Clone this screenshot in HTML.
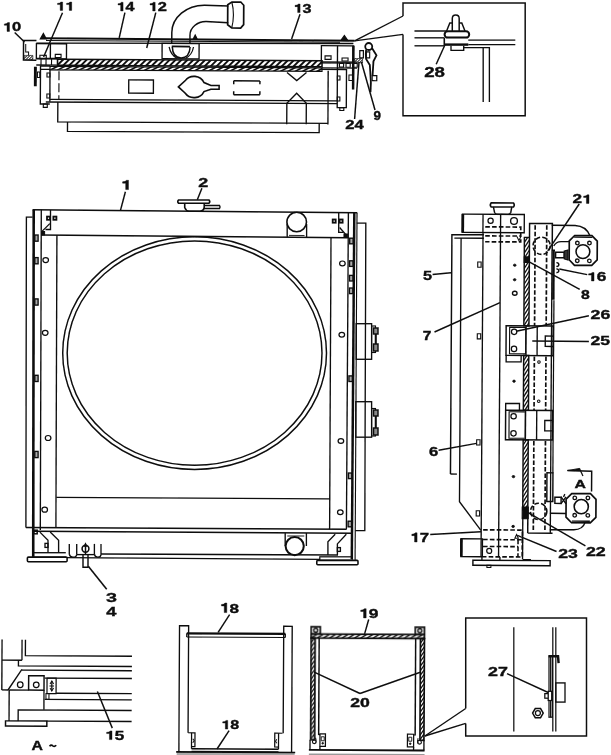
<!DOCTYPE html>
<html><head><meta charset="utf-8"><title>Radiator</title>
<style>
html,body{margin:0;padding:0;background:#fff;}
body{width:611px;height:755px;overflow:hidden;font-family:"Liberation Sans",sans-serif;}
svg{display:block;}
svg *{vector-effect:none;}
text{font-family:"Liberation Sans",sans-serif;font-weight:bold;fill:#0a0a0a;stroke:#0a0a0a;stroke-width:0.35;}
</style></head><body>
<svg width="611" height="755" viewBox="0 0 611 755">
<defs>
<pattern id="h3" width="2" height="2" patternUnits="userSpaceOnUse" patternTransform="rotate(45)">
<rect x="0" y="0" width="1" height="2" fill="#222" stroke="none"/></pattern>
<filter id="soft" x="-2%" y="-2%" width="104%" height="104%"><feGaussianBlur stdDeviation="0.45"/></filter>
</defs>
<rect x="0" y="0" width="611" height="755" fill="#fff" stroke="none"/>
<g fill="none" stroke="#0c0c0c" stroke-linecap="butt" stroke-linejoin="miter" filter="url(#soft)">
<g>
<line x1="32.6" y1="209.8" x2="357.2" y2="212.8" stroke-width="1.46"/>
<line x1="41.1" y1="234.9" x2="348.5" y2="237.8" stroke-width="1.46"/>
<line x1="56.3" y1="497.3" x2="330" y2="498.8" stroke-width="1.34"/>
<line x1="25.9" y1="527.5" x2="346.6" y2="529.3" stroke-width="1.46"/>
<line x1="34" y1="531.2" x2="352" y2="533.2" stroke-width="1.46"/>
<line x1="101" y1="554" x2="338" y2="555" stroke-width="1.34"/>
<line x1="67" y1="557.6" x2="320" y2="559.4" stroke-width="1.34"/>
<path d="M25.9 527.5 L26.4 217.2 L32.6 217.2" stroke-width="1.34" fill="none"/>
<line x1="33.7" y1="209.8" x2="33.2" y2="557" stroke-width="2.58"/>
<line x1="41.3" y1="209.8" x2="40.3" y2="530" stroke-width="1.34"/>
<line x1="56.9" y1="235" x2="55.9" y2="527.7" stroke-width="1.34"/>
<path d="M50.5 210 L50.5 229.5 L45.5 229.5" stroke-width="1.34" fill="none"/>
<line x1="49.8" y1="223.6" x2="42" y2="231.4" stroke-width="1.34"/>
<path d="M41.6 231.4 L44.6 231.4 L44.6 234.9 L41.6 234.9 Z" stroke-width="1.01" fill="#111"/>
<rect x="47" y="216.6" width="3.00" height="3.20" stroke-width="1.79" fill="none"/>
<rect x="53.4" y="216.6" width="3.00" height="3.20" stroke-width="1.79" fill="none"/>
<rect x="34.8" y="235.0" width="3.30" height="6.20" stroke-width="1.34" fill="#aaa"/>
<rect x="34.8" y="257.59999999999997" width="3.30" height="6.20" stroke-width="1.34" fill="#aaa"/>
<rect x="34.8" y="298.9" width="3.30" height="6.20" stroke-width="1.34" fill="#aaa"/>
<rect x="34.8" y="375.29999999999995" width="3.30" height="6.20" stroke-width="1.34" fill="#aaa"/>
<rect x="34.8" y="451.4" width="3.30" height="6.20" stroke-width="1.34" fill="#aaa"/>
<ellipse cx="45.7" cy="260.1" rx="2.8" ry="2.5" stroke-width="1.23" fill="none"/>
<ellipse cx="45.2" cy="332.8" rx="2.8" ry="2.5" stroke-width="1.23" fill="none"/>
<ellipse cx="48.1" cy="438" rx="2.8" ry="2.5" stroke-width="1.23" fill="none"/>
<ellipse cx="44.7" cy="509.7" rx="2.8" ry="2.5" stroke-width="1.23" fill="none"/>
<line x1="331" y1="237.5" x2="329.6" y2="529.2" stroke-width="1.34"/>
<line x1="348.4" y1="212.7" x2="346.4" y2="529.3" stroke-width="1.34"/>
<line x1="354.3" y1="212.8" x2="351.8" y2="559" stroke-width="2.46"/>
<line x1="357" y1="212.8" x2="355.1" y2="560" stroke-width="1.12"/>
<path d="M356.9 223.1 L365.8 223.1 L364.8 530.6 L355.3 530.6" stroke-width="1.34" fill="none"/>
<path d="M338.7 212.6 L338.7 232.4 L343.5 232.4" stroke-width="1.34" fill="none"/>
<line x1="339.6" y1="227.5" x2="346.5" y2="235.4" stroke-width="1.34"/>
<path d="M344 234 L347.8 234 L347.8 237.6 L344 237.6 Z" stroke-width="1.01" fill="#111"/>
<rect x="332.7" y="219.5" width="3.00" height="3.20" stroke-width="1.79" fill="none"/>
<rect x="339.6" y="219.5" width="3.00" height="3.20" stroke-width="1.79" fill="none"/>
<rect x="349.69438596491227" y="238.2" width="3.40" height="5.60" stroke-width="1.34" fill="#aaa"/>
<rect x="349.5675087719298" y="260.8" width="3.40" height="5.60" stroke-width="1.34" fill="#aaa"/>
<rect x="349.4855438596491" y="275.4" width="3.40" height="5.60" stroke-width="1.34" fill="#aaa"/>
<rect x="349.41480701754386" y="288.0" width="3.40" height="5.60" stroke-width="1.34" fill="#aaa"/>
<rect x="348.92133333333334" y="375.9" width="3.40" height="5.60" stroke-width="1.34" fill="#aaa"/>
<rect x="348.3762105263158" y="473.0" width="3.40" height="5.60" stroke-width="1.34" fill="#aaa"/>
<rect x="348.1056140350877" y="521.2" width="3.40" height="5.60" stroke-width="1.34" fill="#aaa"/>
<ellipse cx="342.4" cy="263.4" rx="2.8" ry="2.4" stroke-width="1.23" fill="none"/>
<ellipse cx="341.8" cy="334.7" rx="2.8" ry="2.4" stroke-width="1.23" fill="none"/>
<ellipse cx="340.9" cy="441" rx="2.8" ry="2.4" stroke-width="1.23" fill="none"/>
<ellipse cx="340.3" cy="512.2" rx="2.8" ry="2.4" stroke-width="1.23" fill="none"/>
<ellipse cx="194.6" cy="353.1" rx="131.9" ry="116.3" stroke-width="1.46" fill="none"/>
<ellipse cx="194.6" cy="353.1" rx="127.4" ry="112.2" stroke-width="1.46" fill="none"/>
<circle cx="296.7" cy="222" r="9.8" stroke-width="1.57" fill="none"/>
<line x1="287.2" y1="224" x2="287.2" y2="237.2" stroke-width="1.34"/>
<line x1="306.6" y1="224" x2="306.6" y2="237.4" stroke-width="1.34"/>
<line x1="289" y1="235.4" x2="304.5" y2="235.5" stroke-width="0.90"/>
<path d="M178.5 200 H209 Q210.5 201.6 209 203.2 H178.5 Q177 201.6 178.5 200 Z" stroke-width="1.57" fill="none"/>
<path d="M184.7 203.2 V207.5 Q186 211 189 211.3 H200 Q203.6 211 204.2 207.5 V203.2" stroke-width="1.57" fill="none"/>
<path d="M205 205.5 H219.5 Q220.6 207 219.5 208.5 H203.5" stroke-width="1.34" fill="none"/>
<rect x="33.8" y="530.2" width="3.40" height="3.60" stroke-width="1.46" fill="none"/>
<path d="M39.9 532.1 L48 540.2 L48 552.4" stroke-width="1.34" fill="none"/>
<path d="M50.2 532.1 L58.6 540.2 L58.6 552.4" stroke-width="1.34" fill="none"/>
<rect x="45" y="543.4" width="3.00" height="4.00" stroke-width="1.34" fill="none"/>
<line x1="34" y1="552.7" x2="65.8" y2="552.7" stroke-width="1.34"/>
<rect x="27.4" y="557.1" width="39.70" height="4.70" stroke-width="1.57" fill="none" rx="1"/>
<line x1="34" y1="557.1" x2="66" y2="557.1" stroke-width="1.12"/>
<line x1="69.3" y1="543.9" x2="69.3" y2="554.2" stroke-width="1.34"/>
<line x1="76.7" y1="543.9" x2="76.7" y2="554.2" stroke-width="1.34"/>
<line x1="94.4" y1="543.9" x2="94.4" y2="554.2" stroke-width="1.34"/>
<line x1="101" y1="543.9" x2="101" y2="554.2" stroke-width="1.34"/>
<path d="M69.3 554.2 Q69.8 557.2 73 557.2 Q76.7 557.2 76.7 554.2" stroke-width="1.34" fill="none"/>
<path d="M94.4 554.2 Q94.8 557.2 97.8 557.2 Q101 557.2 101 554.2" stroke-width="1.34" fill="none"/>
<line x1="76.7" y1="554.6" x2="94.4" y2="554.6" stroke-width="1.34"/>
<circle cx="85.5" cy="548.7" r="3.4" stroke-width="1.57" fill="none"/>
<path d="M84.2 546.3 L85.5 543.5 L86.8 546.3 Z" stroke-width="1.12" fill="#111"/>
<line x1="85.5" y1="545.5" x2="85.5" y2="554.2" stroke-width="1.46"/>
<path d="M83 554.2 L83 567.2 L88 567.2 L88 554.2" stroke-width="1.46" fill="none"/>
<circle cx="294.7" cy="546.1" r="9.1" stroke-width="2.02" fill="none"/>
<path d="M285.2 533 V546 M306.4 533.1 V546" stroke-width="1.34" fill="none"/>
<path d="M287.3 536 H304.3" stroke-width="0.90" fill="none"/>
<path d="M335.2 534.3 L327.9 541.7 L327.9 554.9" stroke-width="1.34" fill="none"/>
<path d="M346.3 534.3 L337.4 543.9 L337.4 554.9" stroke-width="1.34" fill="none"/>
<rect x="337.4" y="547.6" width="3.00" height="3.80" stroke-width="1.34" fill="none"/>
<rect x="319.8" y="556.8" width="32.40" height="3.40" stroke-width="1.23" fill="none"/>
<rect x="316.8" y="560.4" width="41.20" height="4.40" stroke-width="1.57" fill="none" rx="1"/>
<rect x="356.2" y="323.7" width="15.40" height="35.60" stroke-width="1.34" fill="none"/>
<rect x="371.6" y="326" width="3.90" height="26.50" stroke-width="1.12" fill="none"/>
<rect x="373.5" y="328" width="4.50" height="6.00" stroke-width="1.46" fill="#888"/>
<rect x="373.5" y="344" width="4.50" height="7.00" stroke-width="1.46" fill="#888"/>
<line x1="375.8" y1="334" x2="375.8" y2="344" stroke-width="2.02"/>
<rect x="355.8" y="401.7" width="15.80" height="35.50" stroke-width="1.34" fill="none"/>
<rect x="371.6" y="408.5" width="3.90" height="27.50" stroke-width="1.12" fill="none"/>
<rect x="373.5" y="410" width="4.50" height="6.00" stroke-width="1.46" fill="#888"/>
<rect x="373.5" y="428" width="4.50" height="7.00" stroke-width="1.46" fill="#888"/>
<line x1="375.8" y1="416" x2="375.8" y2="428" stroke-width="2.02"/>
</g>
<g transform="translate(121.01 189.60) scale(1.426 1)">
<path transform="translate(0.00 0) scale(13.14)" d="M0.40 -0.708 V0 H0.25 V-0.49 H0.085 V-0.595 Q0.255 -0.60 0.295 -0.708 Z" fill="#0a0a0a" stroke="#0a0a0a" stroke-width="0.025"/>
</g>
<line x1="125.4" y1="191.8" x2="120.4" y2="210.6" stroke-width="1.46"/>
<g transform="translate(198.37 186.70) scale(1.455 1)">
<text x="0.00" y="0" font-size="12.29">2</text>
</g>
<line x1="201.9" y1="188.3" x2="197.3" y2="199.8" stroke-width="1.46"/>
<g transform="translate(105.95 602.00) scale(1.439 1)">
<text x="0.00" y="0" font-size="13.70">3</text>
</g>
<line x1="88.3" y1="566.2" x2="106.7" y2="589.2" stroke-width="1.57"/>
<g transform="translate(106.13 616.40) scale(1.348 1)">
<text x="0.00" y="0" font-size="13.56">4</text>
</g>
<g transform="rotate(0.3 195 70)">
<g transform="translate(0 0.8)">
<path d="M36.3 40.5 L23.4 40.5 L23.4 60.2 L36.3 60.2" stroke-width="1.46" fill="none"/>
<path d="M25.6 44 L25.6 52 L28.5 52 L28.5 55.5" stroke-width="1.01" fill="none"/>
<rect x="24.3" y="55.5" width="8.5" height="4.2" fill="url(#h3)" stroke-width="0.6"/>
<path d="M40.3 38.9 L43.2 33.6 L46 38.9 Z" stroke-width="1.34" fill="#111"/>
<rect x="36.3" y="43.6" width="30.10" height="15.20" stroke-width="1.34" fill="none"/>
<line x1="50.3" y1="43.6" x2="50.3" y2="58.8" stroke-width="1.34"/>
<rect x="39.8" y="55.3" width="6.40" height="3.30" stroke-width="1.12" fill="none"/>
<rect x="55.2" y="54.3" width="5.80" height="3.10" stroke-width="1.12" fill="none"/>
</g>
<clipPath id="c1"><rect x="57.5" y="60.0" width="264.50" height="6.00"/></clipPath>
<g clip-path="url(#c1)">
<line x1="44.60" y1="67.00" x2="52.60" y2="59.00" stroke-width="1.9"/>
<line x1="50.50" y1="67.00" x2="58.50" y2="59.00" stroke-width="1.9"/>
<line x1="56.40" y1="67.00" x2="64.40" y2="59.00" stroke-width="1.9"/>
<line x1="62.30" y1="67.00" x2="70.30" y2="59.00" stroke-width="1.9"/>
<line x1="68.20" y1="67.00" x2="76.20" y2="59.00" stroke-width="1.9"/>
<line x1="74.10" y1="67.00" x2="82.10" y2="59.00" stroke-width="1.9"/>
<line x1="80.00" y1="67.00" x2="88.00" y2="59.00" stroke-width="1.9"/>
<line x1="85.90" y1="67.00" x2="93.90" y2="59.00" stroke-width="1.9"/>
<line x1="91.80" y1="67.00" x2="99.80" y2="59.00" stroke-width="1.9"/>
<line x1="97.70" y1="67.00" x2="105.70" y2="59.00" stroke-width="1.9"/>
<line x1="103.60" y1="67.00" x2="111.60" y2="59.00" stroke-width="1.9"/>
<line x1="109.50" y1="67.00" x2="117.50" y2="59.00" stroke-width="1.9"/>
<line x1="115.40" y1="67.00" x2="123.40" y2="59.00" stroke-width="1.9"/>
<line x1="121.30" y1="67.00" x2="129.30" y2="59.00" stroke-width="1.9"/>
<line x1="127.20" y1="67.00" x2="135.20" y2="59.00" stroke-width="1.9"/>
<line x1="133.10" y1="67.00" x2="141.10" y2="59.00" stroke-width="1.9"/>
<line x1="139.00" y1="67.00" x2="147.00" y2="59.00" stroke-width="1.9"/>
<line x1="144.90" y1="67.00" x2="152.90" y2="59.00" stroke-width="1.9"/>
<line x1="150.80" y1="67.00" x2="158.80" y2="59.00" stroke-width="1.9"/>
<line x1="156.70" y1="67.00" x2="164.70" y2="59.00" stroke-width="1.9"/>
<line x1="162.60" y1="67.00" x2="170.60" y2="59.00" stroke-width="1.9"/>
<line x1="168.50" y1="67.00" x2="176.50" y2="59.00" stroke-width="1.9"/>
<line x1="174.40" y1="67.00" x2="182.40" y2="59.00" stroke-width="1.9"/>
<line x1="180.30" y1="67.00" x2="188.30" y2="59.00" stroke-width="1.9"/>
<line x1="186.20" y1="67.00" x2="194.20" y2="59.00" stroke-width="1.9"/>
<line x1="192.10" y1="67.00" x2="200.10" y2="59.00" stroke-width="1.9"/>
<line x1="198.00" y1="67.00" x2="206.00" y2="59.00" stroke-width="1.9"/>
<line x1="203.90" y1="67.00" x2="211.90" y2="59.00" stroke-width="1.9"/>
<line x1="209.80" y1="67.00" x2="217.80" y2="59.00" stroke-width="1.9"/>
<line x1="215.70" y1="67.00" x2="223.70" y2="59.00" stroke-width="1.9"/>
<line x1="221.60" y1="67.00" x2="229.60" y2="59.00" stroke-width="1.9"/>
<line x1="227.50" y1="67.00" x2="235.50" y2="59.00" stroke-width="1.9"/>
<line x1="233.40" y1="67.00" x2="241.40" y2="59.00" stroke-width="1.9"/>
<line x1="239.30" y1="67.00" x2="247.30" y2="59.00" stroke-width="1.9"/>
<line x1="245.20" y1="67.00" x2="253.20" y2="59.00" stroke-width="1.9"/>
<line x1="251.10" y1="67.00" x2="259.10" y2="59.00" stroke-width="1.9"/>
<line x1="257.00" y1="67.00" x2="265.00" y2="59.00" stroke-width="1.9"/>
<line x1="262.90" y1="67.00" x2="270.90" y2="59.00" stroke-width="1.9"/>
<line x1="268.80" y1="67.00" x2="276.80" y2="59.00" stroke-width="1.9"/>
<line x1="274.70" y1="67.00" x2="282.70" y2="59.00" stroke-width="1.9"/>
<line x1="280.60" y1="67.00" x2="288.60" y2="59.00" stroke-width="1.9"/>
<line x1="286.50" y1="67.00" x2="294.50" y2="59.00" stroke-width="1.9"/>
<line x1="292.40" y1="67.00" x2="300.40" y2="59.00" stroke-width="1.9"/>
<line x1="298.30" y1="67.00" x2="306.30" y2="59.00" stroke-width="1.9"/>
<line x1="304.20" y1="67.00" x2="312.20" y2="59.00" stroke-width="1.9"/>
<line x1="310.10" y1="67.00" x2="318.10" y2="59.00" stroke-width="1.9"/>
<line x1="316.00" y1="67.00" x2="324.00" y2="59.00" stroke-width="1.9"/>
<line x1="321.90" y1="67.00" x2="329.90" y2="59.00" stroke-width="1.9"/>
</g>
<rect x="57.5" y="60.0" width="264.50" height="6.00" fill="none" stroke-width="1.57"/>
<line x1="322" y1="61.2" x2="357" y2="61.2" stroke-width="1.34"/>
<line x1="322" y1="67.2" x2="357" y2="67.2" stroke-width="1.34"/>
<line x1="36.3" y1="59.2" x2="57.5" y2="59.2" stroke-width="1.34"/>
<line x1="36.3" y1="65.8" x2="57.5" y2="65.8" stroke-width="1.34"/>
<line x1="41" y1="59.2" x2="41" y2="65.8" stroke-width="1.12"/>
<line x1="46" y1="59.2" x2="46" y2="65.8" stroke-width="1.12"/>
<line x1="51.5" y1="59.2" x2="51.5" y2="65.8" stroke-width="1.12"/>
<clipPath id="c2"><rect x="50" y="67.2" width="272.00" height="3.40"/></clipPath>
<g clip-path="url(#c2)">
<line x1="35.41" y1="71.13" x2="43.80" y2="66.67" stroke-width="1.6"/>
<line x1="42.61" y1="71.13" x2="51.00" y2="66.67" stroke-width="1.6"/>
<line x1="49.81" y1="71.13" x2="58.20" y2="66.67" stroke-width="1.6"/>
<line x1="57.01" y1="71.13" x2="65.40" y2="66.67" stroke-width="1.6"/>
<line x1="64.21" y1="71.13" x2="72.60" y2="66.67" stroke-width="1.6"/>
<line x1="71.41" y1="71.13" x2="79.80" y2="66.67" stroke-width="1.6"/>
<line x1="78.61" y1="71.13" x2="87.00" y2="66.67" stroke-width="1.6"/>
<line x1="85.81" y1="71.13" x2="94.20" y2="66.67" stroke-width="1.6"/>
<line x1="93.01" y1="71.13" x2="101.40" y2="66.67" stroke-width="1.6"/>
<line x1="100.21" y1="71.13" x2="108.60" y2="66.67" stroke-width="1.6"/>
<line x1="107.41" y1="71.13" x2="115.80" y2="66.67" stroke-width="1.6"/>
<line x1="114.61" y1="71.13" x2="123.00" y2="66.67" stroke-width="1.6"/>
<line x1="121.81" y1="71.13" x2="130.20" y2="66.67" stroke-width="1.6"/>
<line x1="129.01" y1="71.13" x2="137.40" y2="66.67" stroke-width="1.6"/>
<line x1="136.21" y1="71.13" x2="144.60" y2="66.67" stroke-width="1.6"/>
<line x1="143.41" y1="71.13" x2="151.80" y2="66.67" stroke-width="1.6"/>
<line x1="150.61" y1="71.13" x2="159.00" y2="66.67" stroke-width="1.6"/>
<line x1="157.81" y1="71.13" x2="166.20" y2="66.67" stroke-width="1.6"/>
<line x1="165.01" y1="71.13" x2="173.40" y2="66.67" stroke-width="1.6"/>
<line x1="172.21" y1="71.13" x2="180.60" y2="66.67" stroke-width="1.6"/>
<line x1="179.41" y1="71.13" x2="187.80" y2="66.67" stroke-width="1.6"/>
<line x1="186.61" y1="71.13" x2="195.00" y2="66.67" stroke-width="1.6"/>
<line x1="193.81" y1="71.13" x2="202.20" y2="66.67" stroke-width="1.6"/>
<line x1="201.01" y1="71.13" x2="209.40" y2="66.67" stroke-width="1.6"/>
<line x1="208.21" y1="71.13" x2="216.60" y2="66.67" stroke-width="1.6"/>
<line x1="215.41" y1="71.13" x2="223.80" y2="66.67" stroke-width="1.6"/>
<line x1="222.61" y1="71.13" x2="231.00" y2="66.67" stroke-width="1.6"/>
<line x1="229.81" y1="71.13" x2="238.20" y2="66.67" stroke-width="1.6"/>
<line x1="237.01" y1="71.13" x2="245.40" y2="66.67" stroke-width="1.6"/>
<line x1="244.21" y1="71.13" x2="252.60" y2="66.67" stroke-width="1.6"/>
<line x1="251.41" y1="71.13" x2="259.80" y2="66.67" stroke-width="1.6"/>
<line x1="258.61" y1="71.13" x2="267.00" y2="66.67" stroke-width="1.6"/>
<line x1="265.81" y1="71.13" x2="274.20" y2="66.67" stroke-width="1.6"/>
<line x1="273.01" y1="71.13" x2="281.40" y2="66.67" stroke-width="1.6"/>
<line x1="280.21" y1="71.13" x2="288.60" y2="66.67" stroke-width="1.6"/>
<line x1="287.41" y1="71.13" x2="295.80" y2="66.67" stroke-width="1.6"/>
<line x1="294.61" y1="71.13" x2="303.00" y2="66.67" stroke-width="1.6"/>
<line x1="301.81" y1="71.13" x2="310.20" y2="66.67" stroke-width="1.6"/>
<line x1="309.01" y1="71.13" x2="317.40" y2="66.67" stroke-width="1.6"/>
<line x1="316.21" y1="71.13" x2="324.60" y2="66.67" stroke-width="1.6"/>
<line x1="323.41" y1="71.13" x2="331.80" y2="66.67" stroke-width="1.6"/>
</g>
<rect x="50" y="67.2" width="272.00" height="3.40" fill="none" stroke-width="1.23"/>
<line x1="40.3" y1="70.2" x2="50" y2="70.2" stroke-width="1.34"/>
<line x1="50" y1="70" x2="50" y2="102.6" stroke-width="1.34"/>
<line x1="59" y1="72" x2="59" y2="100" stroke-width="1.12" stroke-dasharray="9 3"/>
<line x1="50" y1="100.2" x2="337.4" y2="100.2" stroke-width="1.34"/>
<line x1="46" y1="102.8" x2="337.4" y2="102.8" stroke-width="1.34"/>
<line x1="328.2" y1="70" x2="328.2" y2="123.7" stroke-width="1.34"/>
<g transform="translate(0 0.8)">
<path d="M50 66 L40.5 66 L40.5 104 L50 104" stroke-width="1.34" fill="none"/>
<rect x="43.5" y="104" width="4.00" height="3.40" stroke-width="1.12" fill="none"/>
<rect x="47" y="73" width="3.00" height="4.00" stroke-width="1.12" fill="none"/>
<rect x="47" y="94" width="3.00" height="4.00" stroke-width="1.12" fill="none"/>
<line x1="35.4" y1="66.8" x2="35.4" y2="86.4" stroke-width="2.91"/>
<rect x="37.5" y="72" width="2.30" height="5.50" stroke-width="1.01" fill="none"/>
</g>
<path d="M58 102.8 L58 122.6 L328.2 122.6" stroke-width="1.34" fill="none"/>
<path d="M67.8 122.6 L67.8 132 L319.5 132 L319.5 122.6" stroke-width="1.34" fill="none"/>
<path d="M171.6 43.6 V32.7 A32.6 27.6 0 0 1 204.2 5.1 L228 5.9" stroke-width="1.46" fill="none"/>
<path d="M189.8 43.6 V35.2 A16 13.7 0 0 1 205.8 21.5 L228 22.6" stroke-width="1.46" fill="none"/>
<path d="M227.4 4.6 L231.5 1.8 H240.4 L243.4 5 V24.4 L240.4 27.8 H231.5 L227.4 24.6 Z" stroke-width="1.68" fill="none"/>
<path d="M231.5 1.8 Q234.8 14.8 231.5 27.8" stroke-width="1.12" fill="none"/>
<line x1="171.6" y1="46.6" x2="189.8" y2="46.6" stroke-width="1.79"/>
<rect x="162" y="43.6" width="37.00" height="15.20" stroke-width="1.34" fill="none"/>
<path d="M172.2 47 Q172.5 57.8 181 58 Q189.5 57.8 190 47" stroke-width="1.46" fill="none"/>
<path d="M169 47 Q170.5 55 177 58.4 M193.4 47 Q192 55 185.5 58.4" stroke-width="1.23" fill="none"/>
<path d="M193 38.9 L195 35 L197 38.9 Z" stroke-width="1.12" fill="#111"/>
<rect x="128.8" y="80.2" width="24.70" height="13.30" stroke-width="1.34" fill="none"/>
<path d="M178.5 87 L185.1 80.9 A11 10.6 0 0 1 204.1 82.5 L211 85.4 H219.2 V89.2 H211 L204.1 91.5 A11 10.6 0 0 1 185.1 93.1 Z" stroke-width="1.57" fill="none"/>
<line x1="233.8" y1="80.6" x2="260" y2="80.6" stroke-width="1.46"/>
<line x1="233.8" y1="94.5" x2="260" y2="94.5" stroke-width="1.46"/>
<line x1="233.8" y1="80.6" x2="233.8" y2="84" stroke-width="1.46"/>
<line x1="233.8" y1="91" x2="233.8" y2="94.5" stroke-width="1.46"/>
<line x1="260" y1="80.6" x2="260" y2="84" stroke-width="1.46"/>
<line x1="260" y1="91" x2="260" y2="94.5" stroke-width="1.46"/>
<path d="M287 72 L296.8 80 L306.5 72" stroke-width="1.34" fill="none"/>
<path d="M287 123.7 L287 102.8 L296.8 92.8 L306.5 102.8 L306.5 123.7" stroke-width="1.34" fill="none"/>
<g transform="translate(0 -0.8)">
<rect x="321.3" y="45.8" width="32.10" height="17.20" stroke-width="1.34" fill="none"/>
<line x1="337.4" y1="45.8" x2="337.4" y2="63" stroke-width="1.34"/>
<rect x="325" y="56" width="6.00" height="3.50" stroke-width="1.12" fill="none"/>
<rect x="342" y="58" width="6.00" height="3.00" stroke-width="1.12" fill="none"/>
<path d="M340.6 40.6 L344.2 35.4 L347.8 40.6 Z" stroke-width="1.12" fill="#111"/>
<rect x="339.4" y="63.4" width="4.20" height="3.80" stroke-width="1.12" fill="#fff"/>
<rect x="346" y="63.4" width="4.20" height="3.80" stroke-width="1.12" fill="#fff"/>
<rect x="353" y="63.4" width="4.20" height="3.80" stroke-width="1.12" fill="#fff"/>
<path d="M337.4 63 L337.4 107.7 L346.5 107.7 L346.5 69" stroke-width="1.34" fill="none"/>
<rect x="340" y="107.7" width="4.00" height="2.80" stroke-width="1.12" fill="none"/>
<rect x="337.4" y="76" width="2.60" height="4.00" stroke-width="1.12" fill="none"/>
<rect x="337.4" y="97" width="2.60" height="4.00" stroke-width="1.12" fill="none"/>
<line x1="322" y1="69.6" x2="346.5" y2="69.6" stroke-width="1.23"/>
<line x1="353.2" y1="45.8" x2="353.2" y2="89.4" stroke-width="2.46"/>
<rect x="349" y="75" width="4.00" height="5.50" stroke-width="1.01" fill="none"/>
<circle cx="368.6" cy="46.4" r="3.5" stroke-width="1.79" fill="none"/>
<path d="M366 49.4 Q365.4 54 366 58.8 L369.8 64.8 L370.4 73.4 Q371.4 82 370.6 92" stroke-width="1.79" fill="none"/>
<path d="M371.8 47.8 L376.4 55.2 L373.4 61.2 L372.6 75.4" stroke-width="1.79" fill="none"/>
<rect x="359.7" y="50.6" width="3.60" height="7.20" stroke-width="1.23" fill="none"/>
<rect x="366.2" y="51.8" width="3.40" height="6.00" stroke-width="1.12" fill="none"/>
<rect x="354.5" y="58.5" width="8" height="4.3" fill="url(#h3)" stroke-width="0.6"/>
<rect x="372.2" y="75.4" width="4.60" height="5.20" stroke-width="1.23" fill="none"/>
</g>
</g>
<line x1="46" y1="38.3" x2="354.6" y2="40.7" stroke-width="1.90"/>
<line x1="46" y1="40.6" x2="340" y2="42.3" stroke-width="1.01"/>
<line x1="36.3" y1="43.1" x2="353.4" y2="43.5" stroke-width="1.34"/>
<g transform="translate(2.89 31.40) scale(1.330 1)">
<path transform="translate(0.00 0) scale(12.43)" d="M0.40 -0.708 V0 H0.25 V-0.49 H0.085 V-0.595 Q0.255 -0.60 0.295 -0.708 Z" fill="#0a0a0a" stroke="#0a0a0a" stroke-width="0.025"/>
<text x="6.91" y="0" font-size="12.43">0</text>
</g>
<line x1="14.7" y1="32.4" x2="24.5" y2="42" stroke-width="1.46"/>
<g transform="translate(56.11 10.40) scale(1.374 1)">
<path transform="translate(0.00 0) scale(11.86)" d="M0.40 -0.708 V0 H0.25 V-0.49 H0.085 V-0.595 Q0.255 -0.60 0.295 -0.708 Z" fill="#0a0a0a" stroke="#0a0a0a" stroke-width="0.025"/>
<path transform="translate(6.60 0) scale(11.86)" d="M0.40 -0.708 V0 H0.25 V-0.49 H0.085 V-0.595 Q0.255 -0.60 0.295 -0.708 Z" fill="#0a0a0a" stroke="#0a0a0a" stroke-width="0.025"/>
</g>
<line x1="62.5" y1="12.8" x2="43.6" y2="57" stroke-width="1.46"/>
<g transform="translate(116.63 11.00) scale(1.314 1)">
<path transform="translate(0.00 0) scale(12.29)" d="M0.40 -0.708 V0 H0.25 V-0.49 H0.085 V-0.595 Q0.255 -0.60 0.295 -0.708 Z" fill="#0a0a0a" stroke="#0a0a0a" stroke-width="0.025"/>
<text x="6.83" y="0" font-size="12.29">4</text>
</g>
<line x1="124.9" y1="12.6" x2="119.2" y2="37.8" stroke-width="1.46"/>
<g transform="translate(148.60 11.00) scale(1.336 1)">
<path transform="translate(0.00 0) scale(12.29)" d="M0.40 -0.708 V0 H0.25 V-0.49 H0.085 V-0.595 Q0.255 -0.60 0.295 -0.708 Z" fill="#0a0a0a" stroke="#0a0a0a" stroke-width="0.025"/>
<text x="6.83" y="0" font-size="12.29">2</text>
</g>
<line x1="155.8" y1="12.6" x2="146.7" y2="48" stroke-width="1.46"/>
<g transform="translate(293.63 12.60) scale(1.329 1)">
<path transform="translate(0.00 0) scale(12.15)" d="M0.40 -0.708 V0 H0.25 V-0.49 H0.085 V-0.595 Q0.255 -0.60 0.295 -0.708 Z" fill="#0a0a0a" stroke="#0a0a0a" stroke-width="0.025"/>
<text x="6.75" y="0" font-size="12.15">3</text>
</g>
<line x1="300" y1="14.2" x2="291.6" y2="39" stroke-width="1.46"/>
<g transform="translate(345.32 128.80) scale(1.336 1)">
<text x="0.00" y="0" font-size="12.43">2</text>
<text x="6.91" y="0" font-size="12.43">4</text>
</g>
<line x1="354.6" y1="119" x2="359" y2="62" stroke-width="1.46"/>
<g transform="translate(373.53 120.00) scale(1.056 1)">
<text x="0.00" y="0" font-size="12.71">9</text>
</g>
<line x1="375" y1="110" x2="361.4" y2="62" stroke-width="1.46"/>
<line x1="354.6" y1="40.8" x2="403" y2="16" stroke-width="1.34"/>
<line x1="354.6" y1="40.8" x2="403" y2="34.4" stroke-width="1.34"/>
<path d="M403 16 L403 2.9 L525.2 2.9 L525.2 115.7 L403 115.7 L403 34.4" stroke-width="1.46" fill="none"/>
<line x1="414.5" y1="31" x2="446.6" y2="31" stroke-width="1.34"/>
<line x1="414.5" y1="37.8" x2="444.3" y2="37.8" stroke-width="1.34"/>
<line x1="414.5" y1="45.8" x2="444.3" y2="45.8" stroke-width="1.34"/>
<rect x="444.6" y="31.2" width="24.60" height="6.40" stroke-width="2.02" fill="none" rx="3.2"/>
<path d="M452.3 31 V18.5 Q452.3 15 455.7 15 Q459.2 15 459.2 18.5 V31" stroke-width="1.46" fill="none"/>
<path d="M446.6 31 L449.8 23 L452.3 23" stroke-width="1.46" fill="none"/>
<path d="M459.2 23 L461.8 23 L465 31" stroke-width="1.46" fill="none"/>
<line x1="468.3" y1="40.1" x2="515.3" y2="40.1" stroke-width="1.34"/>
<line x1="468.3" y1="44.7" x2="515.3" y2="44.7" stroke-width="1.34"/>
<line x1="444.3" y1="44.6" x2="468.3" y2="44.6" stroke-width="2.46"/>
<line x1="444.3" y1="37.8" x2="444.3" y2="45.8" stroke-width="1.57"/>
<path d="M451 45.8 L451 50.4 L463.7 50.4 L463.7 45.8" stroke-width="1.34" fill="none"/>
<path d="M463.7 47.7 L489.4 47.7 L489.4 102" stroke-width="1.34" fill="none"/>
<line x1="483.2" y1="47.7" x2="483.2" y2="102" stroke-width="1.34"/>
<g transform="translate(424.15 76.80) scale(1.347 1)">
<text x="0.00" y="0" font-size="13.84">2</text>
<text x="7.70" y="0" font-size="13.84">8</text>
</g>
<line x1="436.2" y1="64.2" x2="445" y2="44.7" stroke-width="1.46"/>
<g transform="rotate(0.35 510 385)">
<g transform="translate(-1.0 0)">
<path d="M491 203 H513.4 Q515 205 513.4 207 H491 Q489.4 205 491 203 Z" stroke-width="1.57" fill="none"/>
<path d="M493.3 207 L494.5 212.5 Q495 214.4 497 214.4 H508 Q510 214.4 510.7 212.5 L511.7 207" stroke-width="1.46" fill="none"/>
<rect x="462.4" y="214.4" width="61.90" height="18.30" stroke-width="1.34" fill="none"/>
<line x1="462.8" y1="214.4" x2="462.8" y2="232.7" stroke-width="2.69"/>
<line x1="483" y1="214.4" x2="483" y2="232.7" stroke-width="1.34"/>
<circle cx="490.6" cy="220.8" r="2.6" stroke-width="1.23" fill="none"/>
<circle cx="514" cy="221" r="3.4" stroke-width="1.34" fill="none"/>
<path d="M485.3 227 L520.8 227 L520.8 241.9 L485.3 241.9" stroke-width="1.68" fill="none" stroke-dasharray="4.6 2.2"/>
<line x1="485.3" y1="236" x2="520.8" y2="236" stroke-width="1.57" stroke-dasharray="4.6 2.2"/>
<path d="M517 236.5 L519 240.5 L521 236.5" stroke-width="1.01" fill="none"/>
</g>
<path d="M451 474.4 L451 235 L483 235" stroke-width="1.46" fill="none"/>
<line x1="451" y1="474.4" x2="457.5" y2="474.4" stroke-width="1.34"/>
<line x1="453.5" y1="238.4" x2="483" y2="238.4" stroke-width="1.34"/>
<path d="M460.2 238.4 L460.2 502 L481.8 530.5" stroke-width="1.34" fill="none"/>
<line x1="482.1" y1="232.7" x2="482.1" y2="556.9" stroke-width="1.34"/>
<line x1="499.6" y1="214.4" x2="499.6" y2="556.9" stroke-width="1.34"/>
<rect x="477" y="262.2" width="3.40" height="5.20" stroke-width="1.12" fill="none"/>
<rect x="477" y="333.9" width="3.40" height="5.20" stroke-width="1.12" fill="none"/>
<rect x="477" y="440.0" width="3.40" height="5.20" stroke-width="1.12" fill="none"/>
<rect x="477" y="511.0" width="3.40" height="5.20" stroke-width="1.12" fill="none"/>
<ellipse cx="514" cy="265.2" rx="1.3" ry="1.1" stroke-width="0.90" fill="#111"/>
<ellipse cx="514" cy="279.7" rx="1.3" ry="1.1" stroke-width="0.90" fill="#111"/>
<ellipse cx="514" cy="381.2" rx="1.3" ry="1.1" stroke-width="0.90" fill="#111"/>
<ellipse cx="514" cy="476.6" rx="1.3" ry="1.1" stroke-width="0.90" fill="#111"/>
<ellipse cx="514" cy="526.4" rx="1.3" ry="1.1" stroke-width="0.90" fill="#111"/>
<ellipse cx="514.2" cy="293.2" rx="2.3" ry="2.0" stroke-width="1.34" fill="none"/>
<clipPath id="c3"><rect x="523.5" y="237.3" width="5.10" height="88.50"/></clipPath>
<g clip-path="url(#c3)">
<line x1="522.50" y1="233.70" x2="529.60" y2="222.34" stroke-width="1.25"/>
<line x1="522.50" y1="238.90" x2="529.60" y2="227.54" stroke-width="1.25"/>
<line x1="522.50" y1="244.10" x2="529.60" y2="232.74" stroke-width="1.25"/>
<line x1="522.50" y1="249.30" x2="529.60" y2="237.94" stroke-width="1.25"/>
<line x1="522.50" y1="254.50" x2="529.60" y2="243.14" stroke-width="1.25"/>
<line x1="522.50" y1="259.70" x2="529.60" y2="248.34" stroke-width="1.25"/>
<line x1="522.50" y1="264.90" x2="529.60" y2="253.54" stroke-width="1.25"/>
<line x1="522.50" y1="270.10" x2="529.60" y2="258.74" stroke-width="1.25"/>
<line x1="522.50" y1="275.30" x2="529.60" y2="263.94" stroke-width="1.25"/>
<line x1="522.50" y1="280.50" x2="529.60" y2="269.14" stroke-width="1.25"/>
<line x1="522.50" y1="285.70" x2="529.60" y2="274.34" stroke-width="1.25"/>
<line x1="522.50" y1="290.90" x2="529.60" y2="279.54" stroke-width="1.25"/>
<line x1="522.50" y1="296.10" x2="529.60" y2="284.74" stroke-width="1.25"/>
<line x1="522.50" y1="301.30" x2="529.60" y2="289.94" stroke-width="1.25"/>
<line x1="522.50" y1="306.50" x2="529.60" y2="295.14" stroke-width="1.25"/>
<line x1="522.50" y1="311.70" x2="529.60" y2="300.34" stroke-width="1.25"/>
<line x1="522.50" y1="316.90" x2="529.60" y2="305.54" stroke-width="1.25"/>
<line x1="522.50" y1="322.10" x2="529.60" y2="310.74" stroke-width="1.25"/>
<line x1="522.50" y1="327.30" x2="529.60" y2="315.94" stroke-width="1.25"/>
<line x1="522.50" y1="332.50" x2="529.60" y2="321.14" stroke-width="1.25"/>
<line x1="522.50" y1="337.70" x2="529.60" y2="326.34" stroke-width="1.25"/>
</g>
<rect x="523.5" y="237.3" width="5.10" height="88.50" fill="none" stroke-width="1.46"/>
<clipPath id="c4"><rect x="523.5" y="355.4" width="5.10" height="54.80"/></clipPath>
<g clip-path="url(#c4)">
<line x1="522.50" y1="351.80" x2="529.60" y2="340.44" stroke-width="1.25"/>
<line x1="522.50" y1="357.00" x2="529.60" y2="345.64" stroke-width="1.25"/>
<line x1="522.50" y1="362.20" x2="529.60" y2="350.84" stroke-width="1.25"/>
<line x1="522.50" y1="367.40" x2="529.60" y2="356.04" stroke-width="1.25"/>
<line x1="522.50" y1="372.60" x2="529.60" y2="361.24" stroke-width="1.25"/>
<line x1="522.50" y1="377.80" x2="529.60" y2="366.44" stroke-width="1.25"/>
<line x1="522.50" y1="383.00" x2="529.60" y2="371.64" stroke-width="1.25"/>
<line x1="522.50" y1="388.20" x2="529.60" y2="376.84" stroke-width="1.25"/>
<line x1="522.50" y1="393.40" x2="529.60" y2="382.04" stroke-width="1.25"/>
<line x1="522.50" y1="398.60" x2="529.60" y2="387.24" stroke-width="1.25"/>
<line x1="522.50" y1="403.80" x2="529.60" y2="392.44" stroke-width="1.25"/>
<line x1="522.50" y1="409.00" x2="529.60" y2="397.64" stroke-width="1.25"/>
<line x1="522.50" y1="414.20" x2="529.60" y2="402.84" stroke-width="1.25"/>
<line x1="522.50" y1="419.40" x2="529.60" y2="408.04" stroke-width="1.25"/>
<line x1="522.50" y1="424.60" x2="529.60" y2="413.24" stroke-width="1.25"/>
</g>
<rect x="523.5" y="355.4" width="5.10" height="54.80" fill="none" stroke-width="1.46"/>
<clipPath id="c5"><rect x="523.5" y="439.8" width="5.10" height="70.20"/></clipPath>
<g clip-path="url(#c5)">
<line x1="522.50" y1="436.20" x2="529.60" y2="424.84" stroke-width="1.25"/>
<line x1="522.50" y1="441.40" x2="529.60" y2="430.04" stroke-width="1.25"/>
<line x1="522.50" y1="446.60" x2="529.60" y2="435.24" stroke-width="1.25"/>
<line x1="522.50" y1="451.80" x2="529.60" y2="440.44" stroke-width="1.25"/>
<line x1="522.50" y1="457.00" x2="529.60" y2="445.64" stroke-width="1.25"/>
<line x1="522.50" y1="462.20" x2="529.60" y2="450.84" stroke-width="1.25"/>
<line x1="522.50" y1="467.40" x2="529.60" y2="456.04" stroke-width="1.25"/>
<line x1="522.50" y1="472.60" x2="529.60" y2="461.24" stroke-width="1.25"/>
<line x1="522.50" y1="477.80" x2="529.60" y2="466.44" stroke-width="1.25"/>
<line x1="522.50" y1="483.00" x2="529.60" y2="471.64" stroke-width="1.25"/>
<line x1="522.50" y1="488.20" x2="529.60" y2="476.84" stroke-width="1.25"/>
<line x1="522.50" y1="493.40" x2="529.60" y2="482.04" stroke-width="1.25"/>
<line x1="522.50" y1="498.60" x2="529.60" y2="487.24" stroke-width="1.25"/>
<line x1="522.50" y1="503.80" x2="529.60" y2="492.44" stroke-width="1.25"/>
<line x1="522.50" y1="509.00" x2="529.60" y2="497.64" stroke-width="1.25"/>
<line x1="522.50" y1="514.20" x2="529.60" y2="502.84" stroke-width="1.25"/>
<line x1="522.50" y1="519.40" x2="529.60" y2="508.04" stroke-width="1.25"/>
<line x1="522.50" y1="524.60" x2="529.60" y2="513.24" stroke-width="1.25"/>
</g>
<rect x="523.5" y="439.8" width="5.10" height="70.20" fill="none" stroke-width="1.46"/>
<line x1="525.8" y1="325.8" x2="525.8" y2="355.4" stroke-width="1.23"/>
<line x1="525.8" y1="410.2" x2="525.8" y2="439.8" stroke-width="1.23"/>
<rect x="523.5" y="256.8" width="5.10" height="5.60" stroke-width="1.12" fill="#111"/>
<rect x="523" y="507" width="6.00" height="11.60" stroke-width="1.12" fill="#111"/>
<path d="M528.6 237 L528.6 223.3 L551.4 223.3 L551.4 250" stroke-width="1.46" fill="none"/>
<line x1="551.2" y1="250" x2="551.2" y2="533" stroke-width="1.34"/>
<line x1="553.4" y1="300" x2="553.4" y2="473" stroke-width="1.23"/>
<line x1="528.6" y1="533" x2="553.4" y2="533" stroke-width="1.46"/>
<line x1="528.6" y1="510" x2="528.6" y2="533" stroke-width="1.46"/>
<line x1="534.2" y1="225" x2="534.2" y2="325.8" stroke-width="1.68" stroke-dasharray="4.5 2"/>
<line x1="534.2" y1="356.4" x2="534.2" y2="410.2" stroke-width="1.68" stroke-dasharray="4.5 2"/>
<line x1="534.2" y1="440.8" x2="534.2" y2="531" stroke-width="1.68" stroke-dasharray="4.5 2"/>
<line x1="545.8" y1="225" x2="545.8" y2="325.8" stroke-width="1.68" stroke-dasharray="4.5 2"/>
<line x1="545.8" y1="356.4" x2="545.8" y2="410.2" stroke-width="1.68" stroke-dasharray="4.5 2"/>
<line x1="545.8" y1="440.8" x2="545.8" y2="531" stroke-width="1.68" stroke-dasharray="4.5 2"/>
<circle cx="540.8" cy="245.6" r="8.6" stroke-width="1.57" fill="none" stroke-dasharray="4.6 2.2"/>
<circle cx="539.4" cy="511.2" r="8.2" stroke-width="1.57" fill="none" stroke-dasharray="4.6 2.2"/>
<circle cx="538.8" cy="361.9" r="1.3" stroke-width="1.01" fill="none"/>
<circle cx="538.8" cy="401.1" r="1.3" stroke-width="1.01" fill="none"/>
<g transform="translate(-0.8 -0.4)">
<path d="M551.6 225.5 H575 Q586 226 589.7 235.5" stroke-width="1.46" fill="none"/>
<path d="M553.7 246 Q556 241.9 561 241.7 H569.4" stroke-width="1.34" fill="none"/>
<line x1="551.8" y1="250.4" x2="555" y2="250.4" stroke-width="1.34"/>
<line x1="553.6" y1="250.4" x2="553.6" y2="300" stroke-width="2.46"/>
<rect x="555.6" y="252.3" width="8.60" height="5.60" stroke-width="1.46" fill="none"/>
<path d="M564.2 251 L568 250 V260 L564.2 259 Z" stroke-width="1.12" fill="#333"/>
<path d="M574.6 235.5 H591.8 L597.2 241 V259.8 L591.8 265.3 H574.6 L569.2 259.8 V241 Z" stroke-width="1.68" fill="none"/>
<line x1="574" y1="237.2" x2="592.4" y2="237.2" stroke-width="1.34"/>
<circle cx="582.9" cy="251.6" r="6.9" stroke-width="1.57" fill="none"/>
<circle cx="577.3" cy="243" r="1.8" stroke-width="1.34" fill="none"/>
<circle cx="589.4" cy="243" r="1.8" stroke-width="1.34" fill="none"/>
<circle cx="577.3" cy="260.8" r="1.8" stroke-width="1.34" fill="none"/>
<circle cx="589.4" cy="260.8" r="1.8" stroke-width="1.34" fill="none"/>
<path d="M556.5 263 A1.8 1.8 0 1 1 556.5 266.4 M556.5 269.2 A1.8 1.8 0 1 1 556.5 272.6" stroke-width="1.46" fill="none"/>
</g>
<rect x="505.8" y="325.8" width="47.00" height="29.60" stroke-width="1.46" fill="none"/>
<rect x="509.3" y="327.40000000000003" width="16.10" height="26.40" stroke-width="1.12" fill="none"/>
<circle cx="513.8" cy="331.8" r="2.7" stroke-width="1.23" fill="none"/>
<circle cx="513.8" cy="348.90000000000003" r="2.7" stroke-width="1.23" fill="none"/>
<line x1="536.9" y1="325.8" x2="536.9" y2="355.40000000000003" stroke-width="1.34"/>
<path d="M552.8 335.8 L545 335.8 L545 346.2 L552.8 346.2" stroke-width="1.34" fill="none"/>
<path d="M506 355.4 L506 361.8 L521 361.8 L521 355.4" stroke-width="1.34" fill="none"/>
<rect x="505.8" y="410.2" width="47.00" height="29.60" stroke-width="1.46" fill="none"/>
<rect x="509.3" y="411.8" width="16.10" height="26.40" stroke-width="1.12" fill="none"/>
<circle cx="513.8" cy="416.2" r="2.7" stroke-width="1.23" fill="none"/>
<circle cx="513.8" cy="433.3" r="2.7" stroke-width="1.23" fill="none"/>
<line x1="536.9" y1="410.2" x2="536.9" y2="439.8" stroke-width="1.34"/>
<path d="M552.8 420.2 L545 420.2 L545 430.59999999999997 L552.8 430.59999999999997" stroke-width="1.34" fill="none"/>
<path d="M505.8 410.2 L505.8 403.4 L519.6 403.4 L519.6 410.2" stroke-width="1.34" fill="none"/>
<g transform="translate(0.7 -0.4)">
<rect x="546.8" y="473" width="6.00" height="28.60" stroke-width="1.46" fill="none"/>
<rect x="554.9" y="497.3" width="6.20" height="6.20" stroke-width="1.46" fill="none"/>
<path d="M561.1 497 L566 503.8 M561.1 503.8 L566 497 M563.5 497 L564.8 494.2" stroke-width="1.34" fill="none"/>
<path d="M571.7 493.6 H590.4 L596 499.2 V517.2 L590.4 522.8 H571.7 L566.1 517.2 V499.2 Z" stroke-width="1.68" fill="none"/>
<line x1="572" y1="521.2" x2="590" y2="521.2" stroke-width="1.34"/>
<circle cx="581.3" cy="506.6" r="7.1" stroke-width="1.57" fill="none"/>
<circle cx="574.8" cy="497.9" r="1.8" stroke-width="1.34" fill="none"/>
<circle cx="587.9" cy="497.9" r="1.8" stroke-width="1.34" fill="none"/>
<circle cx="574.8" cy="515.3" r="1.8" stroke-width="1.34" fill="none"/>
<circle cx="587.9" cy="515.3" r="1.8" stroke-width="1.34" fill="none"/>
<path d="M550 513.5 H566.1" stroke-width="1.46" fill="none"/>
<path d="M550 529.8 H574 Q583 529.4 585 522.8" stroke-width="1.46" fill="none"/>
</g>
<path d="M568 470.2 L592.2 470.8 L592.2 491" stroke-width="1.46" fill="none"/>
<path d="M568 470.2 L580 468 L580 470.4 Z" stroke-width="0.90" fill="#111"/>
<line x1="580" y1="468" x2="583.5" y2="475.5" stroke-width="1.23"/>
<g transform="translate(1.0 0)">
<path d="M483 530 L522.3 530 L522.3 556.9 L483 556.9" stroke-width="1.68" fill="none" stroke-dasharray="4.6 2.2"/>
<line x1="483" y1="539.7" x2="522.3" y2="539.7" stroke-width="1.57" stroke-dasharray="4.6 2.2"/>
<line x1="483" y1="546.6" x2="518" y2="546.6" stroke-width="1.57" stroke-dasharray="4.6 2.2"/>
<line x1="518" y1="539.7" x2="518" y2="556.9" stroke-width="1.57" stroke-dasharray="4.6 2.2"/>
<line x1="522.6" y1="517" x2="522.6" y2="559" stroke-width="1.34"/>
<path d="M514.8 538.2 L516.5 534.4 L518.3 538.2 Z" stroke-width="1.01" fill="none"/>
<rect x="460.9" y="539" width="21.50" height="17.90" stroke-width="1.34" fill="none"/>
<line x1="461.4" y1="539" x2="461.4" y2="556.9" stroke-width="2.69"/>
<circle cx="489.2" cy="551" r="2.5" stroke-width="1.23" fill="none"/>
<rect x="473" y="560.4" width="77.20" height="5.00" stroke-width="1.46" fill="none"/>
<line x1="482" y1="557" x2="482" y2="560.4" stroke-width="1.34"/>
<line x1="500" y1="557" x2="500" y2="560.4" stroke-width="1.34"/>
<line x1="522.6" y1="559.5" x2="531" y2="559.5" stroke-width="1.34"/>
<rect x="487" y="565.4" width="4.00" height="2.20" stroke-width="1.01" fill="none"/>
</g>
</g>
<g transform="translate(422.89 280.40) scale(1.254 1)">
<text x="0.00" y="0" font-size="12.99">5</text>
</g>
<line x1="432.6" y1="274.4" x2="451" y2="272.8" stroke-width="1.46"/>
<g transform="translate(422.83 340.20) scale(1.148 1)">
<text x="0.00" y="0" font-size="13.56">7</text>
</g>
<line x1="434.5" y1="332" x2="500" y2="302.6" stroke-width="1.46"/>
<g transform="translate(572.60 203.40) scale(1.412 1)">
<text x="0.00" y="0" font-size="12.15">2</text>
<path transform="translate(6.75 0) scale(12.15)" d="M0.40 -0.708 V0 H0.25 V-0.49 H0.085 V-0.595 Q0.255 -0.60 0.295 -0.708 Z" fill="#0a0a0a" stroke="#0a0a0a" stroke-width="0.025"/>
</g>
<line x1="579.2" y1="204" x2="547.8" y2="250.8" stroke-width="1.46"/>
<g transform="translate(587.13 281.00) scale(1.437 1)">
<path transform="translate(0.00 0) scale(12.01)" d="M0.40 -0.708 V0 H0.25 V-0.49 H0.085 V-0.595 Q0.255 -0.60 0.295 -0.708 Z" fill="#0a0a0a" stroke="#0a0a0a" stroke-width="0.025"/>
<text x="6.68" y="0" font-size="12.01">6</text>
</g>
<line x1="587.2" y1="274.6" x2="559.3" y2="269" stroke-width="1.46"/>
<g transform="translate(581.09 298.70) scale(1.259 1)">
<text x="0.00" y="0" font-size="12.57">8</text>
</g>
<line x1="579.7" y1="289.4" x2="526.9" y2="260.7" stroke-width="1.46"/>
<g transform="translate(590.58 318.90) scale(1.438 1)">
<text x="0.00" y="0" font-size="12.29">2</text>
<text x="6.83" y="0" font-size="12.29">6</text>
</g>
<line x1="588.9" y1="315.7" x2="516.2" y2="331.2" stroke-width="1.46"/>
<g transform="translate(590.59 345.40) scale(1.411 1)">
<text x="0.00" y="0" font-size="12.43">2</text>
<text x="6.91" y="0" font-size="12.43">5</text>
</g>
<line x1="588.9" y1="341.5" x2="532.3" y2="341.1" stroke-width="1.46"/>
<g transform="translate(428.89 455.60) scale(1.348 1)">
<text x="0.00" y="0" font-size="12.29">6</text>
</g>
<line x1="438.6" y1="450.3" x2="476.5" y2="443.4" stroke-width="1.46"/>
<g transform="translate(410.37 542.00) scale(1.292 1)">
<path transform="translate(0.00 0) scale(12.99)" d="M0.40 -0.708 V0 H0.25 V-0.49 H0.085 V-0.595 Q0.255 -0.60 0.295 -0.708 Z" fill="#0a0a0a" stroke="#0a0a0a" stroke-width="0.025"/>
<text x="7.22" y="0" font-size="12.99">7</text>
</g>
<line x1="430.2" y1="534.4" x2="481" y2="531.7" stroke-width="1.46"/>
<g transform="translate(585.88 556.20) scale(1.435 1)">
<text x="0.00" y="0" font-size="12.43">2</text>
<text x="6.91" y="0" font-size="12.43">2</text>
</g>
<line x1="585.4" y1="545.8" x2="527.7" y2="512.3" stroke-width="1.46"/>
<g transform="translate(558.28 558.00) scale(1.422 1)">
<text x="0.00" y="0" font-size="12.43">2</text>
<text x="6.91" y="0" font-size="12.43">3</text>
</g>
<line x1="556.5" y1="551.5" x2="517.3" y2="535.4" stroke-width="1.46"/>
<g transform="translate(574.61 487.60) scale(1.348 1)">
<text x="0.00" y="0" font-size="11.72">A</text>
</g>
<g transform="rotate(0.3 70 690)">
<line x1="1.8" y1="639.9" x2="1.8" y2="690.3" stroke-width="1.34"/>
<line x1="21.8" y1="639.9" x2="21.8" y2="660.5" stroke-width="1.34"/>
<path d="M25.2 639.9 L25.2 655.9 L131.8 655.9" stroke-width="1.34" fill="none"/>
<line x1="1.8" y1="660.5" x2="21.8" y2="660.5" stroke-width="1.34"/>
<path d="M18.3 660.5 L18.3 666.2 L131.8 666.2" stroke-width="1.34" fill="none"/>
<line x1="21.8" y1="670.4" x2="131.8" y2="670.4" stroke-width="1.34"/>
<path d="M21.8 669.7 L8 690.3 L1.8 690.3" stroke-width="1.34" fill="none"/>
<path d="M9.2 690.3 L9.2 721.2" stroke-width="1.34" fill="none"/>
<line x1="9.2" y1="690.3" x2="28.6" y2="690.3" stroke-width="1.34"/>
<rect x="28.6" y="675.9" width="15.40" height="14.40" stroke-width="1.46" fill="none"/>
<circle cx="36.2" cy="685" r="2.8" stroke-width="1.23" fill="none"/>
<circle cx="20.2" cy="685" r="2.8" stroke-width="1.23" fill="none"/>
<line x1="44.7" y1="678.2" x2="131.8" y2="678.2" stroke-width="1.34"/>
<rect x="47" y="678.2" width="9.10" height="15.50" stroke-width="1.23" fill="none"/>
<line x1="51.8" y1="681" x2="51.8" y2="691" stroke-width="1.23"/>
<path d="M50 684 L51.8 681 L53.6 684" stroke-width="1.01" fill="none"/>
<path d="M50 688 L51.8 691 L53.6 688" stroke-width="1.01" fill="none"/>
<line x1="49.5" y1="686" x2="54" y2="686" stroke-width="1.01"/>
<line x1="56.1" y1="693.3" x2="131.8" y2="693.3" stroke-width="1.34"/>
<line x1="44.7" y1="699.5" x2="131.8" y2="699.5" stroke-width="1.34"/>
<line x1="44" y1="690.3" x2="44" y2="709.8" stroke-width="1.34"/>
<rect x="46" y="693.7" width="3.00" height="5.80" stroke-width="1.01" fill="none"/>
<path d="M131.8 710.2 L18.3 710.2 L18.3 721.2" stroke-width="1.34" fill="none"/>
<line x1="47" y1="721.2" x2="131.8" y2="721.2" stroke-width="1.34"/>
<rect x="5.7" y="721.2" width="41.30" height="5.10" stroke-width="1.46" fill="none"/>
</g>
<g transform="translate(105.15 739.60) scale(1.393 1)">
<path transform="translate(0.00 0) scale(12.29)" d="M0.40 -0.708 V0 H0.25 V-0.49 H0.085 V-0.595 Q0.255 -0.60 0.295 -0.708 Z" fill="#0a0a0a" stroke="#0a0a0a" stroke-width="0.025"/>
<text x="6.83" y="0" font-size="12.29">5</text>
</g>
<line x1="112.3" y1="728.1" x2="97.4" y2="691.5" stroke-width="1.46"/>
<g transform="translate(31.61 749.90) scale(1.216 1)">
<text x="0.00" y="0" font-size="12.99">A</text>
</g>
<path d="M49.5 746.3 Q51.2 744.4 52.8 745.8 Q54.5 747.2 56.2 745.3" stroke-width="1.68" fill="none"/>
<g transform="rotate(0.3 235 690)">
<path d="M179.2 752.5 L179.2 626 L188.3 626 L188.3 733" stroke-width="1.34" fill="none"/>
<path d="M291.9 752.5 L291.9 626 L283.4 626 L283.4 733" stroke-width="1.34" fill="none"/>
<line x1="186.5" y1="633.6" x2="285" y2="633.6" stroke-width="2.24"/>
<line x1="186.5" y1="637.3" x2="285" y2="637.3" stroke-width="1.12"/>
<line x1="186.5" y1="633.6" x2="186.5" y2="637.3" stroke-width="1.34"/>
<line x1="285" y1="633.6" x2="285" y2="637.3" stroke-width="1.34"/>
<path d="M188.3 733 L195.2 733 L195.2 746.8 L191.8 746.8" stroke-width="1.23" fill="none"/>
<line x1="191.8" y1="733" x2="191.8" y2="749" stroke-width="1.23"/>
<path d="M282.7 733 L275 733 L275 746.8 L278.8 746.8" stroke-width="1.23" fill="none"/>
<line x1="278.8" y1="733" x2="278.8" y2="749" stroke-width="1.23"/>
<path d="M193 739 L194.5 741 L193 743" stroke-width="1.01" fill="none"/>
<path d="M277 739 L275.8 741 L277 743" stroke-width="1.01" fill="none"/>
<line x1="191.8" y1="749" x2="278.8" y2="749" stroke-width="1.57"/>
<line x1="191.8" y1="751.6" x2="278.8" y2="751.6" stroke-width="1.01"/>
<rect x="177" y="752.4" width="118" height="4" fill="#a8a8a8" stroke="none"/>
<line x1="176.5" y1="752.2" x2="295.5" y2="752.2" stroke-width="1.68"/>
</g>
<g transform="translate(219.94 612.60) scale(1.266 1)">
<path transform="translate(0.00 0) scale(13.56)" d="M0.40 -0.708 V0 H0.25 V-0.49 H0.085 V-0.595 Q0.255 -0.60 0.295 -0.708 Z" fill="#0a0a0a" stroke="#0a0a0a" stroke-width="0.025"/>
<text x="7.54" y="0" font-size="13.56">8</text>
</g>
<line x1="229.6" y1="614.7" x2="218.1" y2="632.4" stroke-width="1.46"/>
<g transform="translate(221.33 729.10) scale(1.307 1)">
<path transform="translate(0.00 0) scale(12.29)" d="M0.40 -0.708 V0 H0.25 V-0.49 H0.085 V-0.595 Q0.255 -0.60 0.295 -0.708 Z" fill="#0a0a0a" stroke="#0a0a0a" stroke-width="0.025"/>
<text x="6.83" y="0" font-size="12.29">8</text>
</g>
<line x1="229.1" y1="730.7" x2="217" y2="749" stroke-width="1.46"/>
<g transform="rotate(0.3 367 690)">
<rect x="310.9" y="627" width="9.10" height="7.30" stroke-width="1.68" fill="none"/>
<rect x="415" y="627" width="9.20" height="7.30" stroke-width="1.68" fill="none"/>
<circle cx="315.5" cy="630.5" r="2.0" stroke-width="1.34" fill="none"/>
<circle cx="419.6" cy="630.5" r="2.0" stroke-width="1.34" fill="none"/>
<clipPath id="c6"><rect x="310.9" y="634.3" width="113.30" height="4.00"/></clipPath>
<g clip-path="url(#c6)">
<line x1="297.30" y1="638.92" x2="305.70" y2="633.68" stroke-width="1.3"/>
<line x1="303.50" y1="638.92" x2="311.90" y2="633.68" stroke-width="1.3"/>
<line x1="309.70" y1="638.92" x2="318.10" y2="633.68" stroke-width="1.3"/>
<line x1="315.90" y1="638.92" x2="324.30" y2="633.68" stroke-width="1.3"/>
<line x1="322.10" y1="638.92" x2="330.50" y2="633.68" stroke-width="1.3"/>
<line x1="328.30" y1="638.92" x2="336.70" y2="633.68" stroke-width="1.3"/>
<line x1="334.50" y1="638.92" x2="342.90" y2="633.68" stroke-width="1.3"/>
<line x1="340.70" y1="638.92" x2="349.10" y2="633.68" stroke-width="1.3"/>
<line x1="346.90" y1="638.92" x2="355.30" y2="633.68" stroke-width="1.3"/>
<line x1="353.10" y1="638.92" x2="361.50" y2="633.68" stroke-width="1.3"/>
<line x1="359.30" y1="638.92" x2="367.70" y2="633.68" stroke-width="1.3"/>
<line x1="365.50" y1="638.92" x2="373.90" y2="633.68" stroke-width="1.3"/>
<line x1="371.70" y1="638.92" x2="380.10" y2="633.68" stroke-width="1.3"/>
<line x1="377.90" y1="638.92" x2="386.30" y2="633.68" stroke-width="1.3"/>
<line x1="384.10" y1="638.92" x2="392.50" y2="633.68" stroke-width="1.3"/>
<line x1="390.30" y1="638.92" x2="398.70" y2="633.68" stroke-width="1.3"/>
<line x1="396.50" y1="638.92" x2="404.90" y2="633.68" stroke-width="1.3"/>
<line x1="402.70" y1="638.92" x2="411.10" y2="633.68" stroke-width="1.3"/>
<line x1="408.90" y1="638.92" x2="417.30" y2="633.68" stroke-width="1.3"/>
<line x1="415.10" y1="638.92" x2="423.50" y2="633.68" stroke-width="1.3"/>
<line x1="421.30" y1="638.92" x2="429.70" y2="633.68" stroke-width="1.3"/>
<line x1="427.50" y1="638.92" x2="435.90" y2="633.68" stroke-width="1.3"/>
</g>
<rect x="310.9" y="634.3" width="113.30" height="4.00" fill="none" stroke-width="1.68"/>
<clipPath id="c7"><rect x="310.9" y="638.3" width="4.00" height="101.70"/></clipPath>
<g clip-path="url(#c7)">
<line x1="309.90" y1="635.13" x2="315.90" y2="626.56" stroke-width="1.25"/>
<line x1="309.90" y1="639.73" x2="315.90" y2="631.16" stroke-width="1.25"/>
<line x1="309.90" y1="644.33" x2="315.90" y2="635.76" stroke-width="1.25"/>
<line x1="309.90" y1="648.93" x2="315.90" y2="640.36" stroke-width="1.25"/>
<line x1="309.90" y1="653.53" x2="315.90" y2="644.96" stroke-width="1.25"/>
<line x1="309.90" y1="658.13" x2="315.90" y2="649.56" stroke-width="1.25"/>
<line x1="309.90" y1="662.73" x2="315.90" y2="654.16" stroke-width="1.25"/>
<line x1="309.90" y1="667.33" x2="315.90" y2="658.76" stroke-width="1.25"/>
<line x1="309.90" y1="671.93" x2="315.90" y2="663.36" stroke-width="1.25"/>
<line x1="309.90" y1="676.53" x2="315.90" y2="667.96" stroke-width="1.25"/>
<line x1="309.90" y1="681.13" x2="315.90" y2="672.56" stroke-width="1.25"/>
<line x1="309.90" y1="685.73" x2="315.90" y2="677.16" stroke-width="1.25"/>
<line x1="309.90" y1="690.33" x2="315.90" y2="681.76" stroke-width="1.25"/>
<line x1="309.90" y1="694.93" x2="315.90" y2="686.36" stroke-width="1.25"/>
<line x1="309.90" y1="699.53" x2="315.90" y2="690.96" stroke-width="1.25"/>
<line x1="309.90" y1="704.13" x2="315.90" y2="695.56" stroke-width="1.25"/>
<line x1="309.90" y1="708.73" x2="315.90" y2="700.16" stroke-width="1.25"/>
<line x1="309.90" y1="713.33" x2="315.90" y2="704.76" stroke-width="1.25"/>
<line x1="309.90" y1="717.93" x2="315.90" y2="709.36" stroke-width="1.25"/>
<line x1="309.90" y1="722.53" x2="315.90" y2="713.96" stroke-width="1.25"/>
<line x1="309.90" y1="727.13" x2="315.90" y2="718.56" stroke-width="1.25"/>
<line x1="309.90" y1="731.73" x2="315.90" y2="723.16" stroke-width="1.25"/>
<line x1="309.90" y1="736.33" x2="315.90" y2="727.76" stroke-width="1.25"/>
<line x1="309.90" y1="740.93" x2="315.90" y2="732.36" stroke-width="1.25"/>
<line x1="309.90" y1="745.53" x2="315.90" y2="736.96" stroke-width="1.25"/>
<line x1="309.90" y1="750.13" x2="315.90" y2="741.56" stroke-width="1.25"/>
</g>
<rect x="310.9" y="638.3" width="4.00" height="101.70" fill="none" stroke-width="1.68"/>
<clipPath id="c8"><rect x="420.2" y="638.3" width="4.00" height="101.70"/></clipPath>
<g clip-path="url(#c8)">
<line x1="419.20" y1="635.13" x2="425.20" y2="626.56" stroke-width="1.25"/>
<line x1="419.20" y1="639.73" x2="425.20" y2="631.16" stroke-width="1.25"/>
<line x1="419.20" y1="644.33" x2="425.20" y2="635.76" stroke-width="1.25"/>
<line x1="419.20" y1="648.93" x2="425.20" y2="640.36" stroke-width="1.25"/>
<line x1="419.20" y1="653.53" x2="425.20" y2="644.96" stroke-width="1.25"/>
<line x1="419.20" y1="658.13" x2="425.20" y2="649.56" stroke-width="1.25"/>
<line x1="419.20" y1="662.73" x2="425.20" y2="654.16" stroke-width="1.25"/>
<line x1="419.20" y1="667.33" x2="425.20" y2="658.76" stroke-width="1.25"/>
<line x1="419.20" y1="671.93" x2="425.20" y2="663.36" stroke-width="1.25"/>
<line x1="419.20" y1="676.53" x2="425.20" y2="667.96" stroke-width="1.25"/>
<line x1="419.20" y1="681.13" x2="425.20" y2="672.56" stroke-width="1.25"/>
<line x1="419.20" y1="685.73" x2="425.20" y2="677.16" stroke-width="1.25"/>
<line x1="419.20" y1="690.33" x2="425.20" y2="681.76" stroke-width="1.25"/>
<line x1="419.20" y1="694.93" x2="425.20" y2="686.36" stroke-width="1.25"/>
<line x1="419.20" y1="699.53" x2="425.20" y2="690.96" stroke-width="1.25"/>
<line x1="419.20" y1="704.13" x2="425.20" y2="695.56" stroke-width="1.25"/>
<line x1="419.20" y1="708.73" x2="425.20" y2="700.16" stroke-width="1.25"/>
<line x1="419.20" y1="713.33" x2="425.20" y2="704.76" stroke-width="1.25"/>
<line x1="419.20" y1="717.93" x2="425.20" y2="709.36" stroke-width="1.25"/>
<line x1="419.20" y1="722.53" x2="425.20" y2="713.96" stroke-width="1.25"/>
<line x1="419.20" y1="727.13" x2="425.20" y2="718.56" stroke-width="1.25"/>
<line x1="419.20" y1="731.73" x2="425.20" y2="723.16" stroke-width="1.25"/>
<line x1="419.20" y1="736.33" x2="425.20" y2="727.76" stroke-width="1.25"/>
<line x1="419.20" y1="740.93" x2="425.20" y2="732.36" stroke-width="1.25"/>
<line x1="419.20" y1="745.53" x2="425.20" y2="736.96" stroke-width="1.25"/>
<line x1="419.20" y1="750.13" x2="425.20" y2="741.56" stroke-width="1.25"/>
</g>
<rect x="420.2" y="638.3" width="4.00" height="101.70" fill="none" stroke-width="1.68"/>
<line x1="318.9" y1="638.3" x2="318.9" y2="735.2" stroke-width="1.46"/>
<line x1="415.4" y1="638.3" x2="415.4" y2="735.2" stroke-width="1.46"/>
<line x1="310.3" y1="740" x2="310.3" y2="750" stroke-width="1.34"/>
<line x1="424.2" y1="740" x2="424.2" y2="750" stroke-width="1.34"/>
<circle cx="314.6" cy="742" r="1.9" stroke-width="1.12" fill="none"/>
<circle cx="419.8" cy="742" r="1.9" stroke-width="1.12" fill="none"/>
<path d="M315.8 738 Q317 741 315.8 743" stroke-width="1.01" fill="none"/>
<path d="M418.4 738 Q417.2 741 418.4 743" stroke-width="1.01" fill="none"/>
<path d="M318.8 735.2 L320.2 734 L325.7 734 L325.7 746.7 L320.2 746.7 L320.2 734" stroke-width="1.23" fill="none"/>
<path d="M414.8 735.2 L413.9 734 L407.7 734 L407.7 746.7 L413.9 746.7 L413.9 734" stroke-width="1.23" fill="none"/>
<rect x="321.5" y="737" width="3.00" height="4.00" stroke-width="0.90" fill="none"/>
<rect x="409" y="737" width="3.00" height="4.00" stroke-width="0.90" fill="none"/>
<circle cx="323" cy="743.5" r="0.8" stroke-width="0.90" fill="#111"/>
<circle cx="410.5" cy="743.5" r="0.8" stroke-width="0.90" fill="#111"/>
<line x1="320.2" y1="746.7" x2="320.2" y2="750" stroke-width="1.34"/>
<line x1="413.9" y1="746.7" x2="413.9" y2="750" stroke-width="1.34"/>
<line x1="309.2" y1="750.2" x2="424.9" y2="750.2" stroke-width="1.79"/>
<rect x="309.2" y="753.8" width="115.7" height="2" fill="#9a9a9a" stroke="none"/>
</g>
<g transform="translate(359.22 617.90) scale(1.337 1)">
<path transform="translate(0.00 0) scale(12.99)" d="M0.40 -0.708 V0 H0.25 V-0.49 H0.085 V-0.595 Q0.255 -0.60 0.295 -0.708 Z" fill="#0a0a0a" stroke="#0a0a0a" stroke-width="0.025"/>
<text x="7.22" y="0" font-size="12.99">9</text>
</g>
<line x1="368.7" y1="619.5" x2="364.6" y2="633.9" stroke-width="1.46"/>
<g transform="translate(350.28 707.20) scale(1.359 1)">
<text x="0.00" y="0" font-size="12.99">2</text>
<text x="7.22" y="0" font-size="12.99">0</text>
</g>
<line x1="360" y1="693.5" x2="314.2" y2="672.2" stroke-width="1.46"/>
<line x1="360" y1="693.5" x2="420.3" y2="672.2" stroke-width="1.46"/>
<line x1="424.9" y1="736" x2="465.7" y2="708.5" stroke-width="1.34"/>
<line x1="424.9" y1="736" x2="465.7" y2="723.4" stroke-width="1.34"/>
<path d="M465.7 708.5 L465.7 618 L586.5 618 L586.5 736 L465.7 736 L465.7 723.4" stroke-width="1.46" fill="none"/>
<line x1="513.8" y1="627.2" x2="513.8" y2="731.4" stroke-width="1.23"/>
<line x1="552.8" y1="627.2" x2="552.8" y2="731.4" stroke-width="1.23"/>
<line x1="555.8" y1="627.2" x2="555.8" y2="731.4" stroke-width="1.23"/>
<rect x="549" y="656" width="3.30" height="61.20" stroke-width="1.23" fill="none"/>
<line x1="550.6" y1="656" x2="550.6" y2="717.2" stroke-width="1.12"/>
<path d="M548.6 656.2 L558 656.2 L558.6 663.2" stroke-width="2.46" fill="none"/>
<rect x="555.8" y="682.9" width="9.20" height="19.20" stroke-width="1.34" fill="none"/>
<rect x="544.8" y="693.6" width="4.10" height="4.60" stroke-width="1.23" fill="none"/>
<rect x="548.2" y="691.3" width="3.50" height="9.20" stroke-width="1.23" fill="#fff"/>
<path d="M543.1999999999999 713.1 L540.55 717.6899346400576 L535.25 717.6899346400576 L532.6 713.1 L535.25 708.5100653599425 L540.55 708.5100653599425 Z" stroke-width="1.46" fill="none"/>
<circle cx="537.9" cy="713.1" r="2.5" stroke-width="1.23" fill="none"/>
<g transform="translate(487.98 676.00) scale(1.450 1)">
<text x="0.00" y="0" font-size="12.29">2</text>
<text x="6.83" y="0" font-size="12.29">7</text>
</g>
<line x1="507" y1="673.7" x2="548.2" y2="692.5" stroke-width="1.46"/>
</g>
</svg>
</body></html>
